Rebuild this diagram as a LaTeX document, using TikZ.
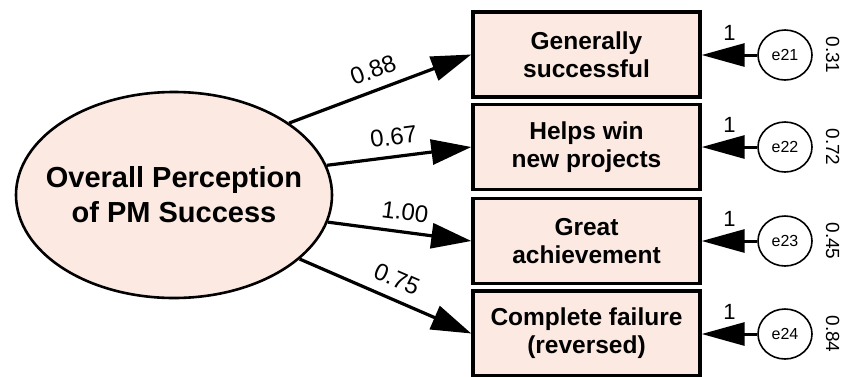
\documentclass[tikz,border=0pt]{standalone}
\usepackage{fontspec}
\setmainfont{Liberation Sans}
\usetikzlibrary{arrows.meta,shapes.geometric}
\definecolor{peach}{RGB}{252,234,226}
\tikzset{
  latent/.style={ellipse,draw,line width=2.6pt,fill=peach,minimum width=316pt,minimum height=206pt,inner sep=0pt},
  latenttext/.style={align=center,inner sep=0pt,font=\fontsize{29}{35}\selectfont\bfseries},
  obsbox/.style={rectangle,draw,line width=3.4pt,fill=peach,minimum width=227pt,minimum height=85pt,inner sep=0pt,align=center,font=\fontsize{24.5}{28}\selectfont\bfseries},
  errnode/.style={ellipse,draw,line width=1.6pt,fill=white,minimum width=54pt,minimum height=50pt,inner sep=0pt,font=\fontsize{16}{18}\selectfont},
  patharrow/.style={line width=3.2pt,-{Triangle[length=40pt,width=25pt]}},
  errarrow/.style={line width=3pt,-{Triangle[length=43pt,width=23pt]}},
  coef/.style={font=\fontsize{24}{26}\selectfont,sloped,above=9pt,inner sep=1pt},
  onelab/.style={font=\fontsize{22}{24}\selectfont},
  varlab/.style={font=\fontsize{19}{21}\selectfont,rotate=-90,anchor=south,inner sep=0pt},
}
\begin{document}
\begin{tikzpicture}[x=1pt,y=-1pt]
\useasboundingbox (0,0) rectangle (842,376);
\node[latent] (L) at (174,195) {};
\node[latenttext] (Lt) at (L.center) {Overall Perception\\of PM Success};
\node[obsbox] (b1) at (586.5,54.5) {Generally\\successful};
\node[obsbox] (b2) at (586.5,147) {Helps win\\new projects};
\node[obsbox] (b3) at (586.5,241) {Great\\achievement};
\node[obsbox] (b4) at (586.5,333.5) {Complete failure\\(reversed)};
\node[errnode] (e1) at (785,55) {e21};
\node[errnode] (e2) at (785,147) {e22};
\node[errnode] (e3) at (785,241) {e23};
\node[errnode] (e4) at (785,334) {e24};
\draw[patharrow] (L.32) -- node[coef,pos=0.5] {0.88} (b1.west);
\draw[patharrow] (L.11) -- node[coef,pos=0.48] {0.67} (b2.west);
\draw[patharrow] (L.-10) -- node[coef,pos=0.52] {1.00} (b3.west);
\draw[patharrow] (L.-27) -- node[coef,pos=0.52] {0.75} (b4.west);
\foreach \i/\v in {1/0.31,2/0.72,3/0.45,4/0.84}{
  \draw[errarrow] (e\i.west) -- node[onelab,midway,yshift=22pt] {1} (e\i.west -| b\i.east);
  \node[varlab] (v\i) at ([xshift=13pt]e\i.east) {\v};
}
\end{tikzpicture}
\end{document}
